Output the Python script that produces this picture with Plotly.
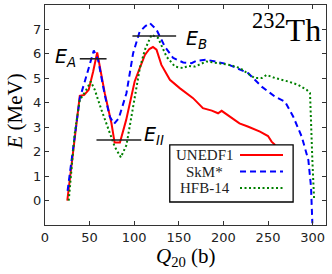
import plotly.graph_objects as go

# ---- data ----
q_unedf1 = [25, 39, 44, 49, 54, 58.5, 67, 74.5, 78, 84, 91, 100.5, 106, 112, 117, 121, 125, 130.5,
            140, 151, 166, 177, 187, 194, 198, 207, 218, 228, 241, 250, 254, 258]
e_unedf1 = [0, 4.28, 4.32, 4.53, 5.28, 6.06, 4.39, 3.16, 2.37, 2.37, 3.3, 4.87, 5.4, 5.96, 6.2, 6.28, 6.17, 5.55,
            4.94, 4.6, 4.19, 3.78, 3.68, 3.57, 3.67, 3.43, 3.16, 3.02, 2.82, 2.64, 2.41, 2.27]

q_skm = [25.3, 39, 44.6, 50.2, 54.7, 59.5, 67, 72.6, 77.5, 82.7, 91.3, 98.8, 106, 112, 117.5, 125, 134.3,
         143.7, 154.9, 164.3, 170, 181, 192.4, 203.6, 213, 227.8, 242.9, 257.8, 269, 278.3, 287.8, 295.2,
         298.2, 299.7]
e_skm = [0.4, 4.19, 4.87, 5.62, 6.14, 5.76, 4.32, 3.43, 3.14, 3.37, 4.39, 6.03, 6.9, 7.12, 7.26, 6.99, 6.30,
         5.83, 5.65, 5.62, 5.72, 5.76, 5.69, 5.59, 5.45, 5.21, 4.66, 4.25, 4.05, 3.43, 2.61, 1.66,
         0.57, -0.93]

q_hfb = [26.6, 33.3, 39, 45.3, 51.3, 55.8, 63.3, 70.7, 78.2, 85, 91.3, 98.8, 106.3, 112, 119.4, 126.8,
         136.2, 145.6, 154.9, 160.5, 168, 181, 196, 207, 218.5, 224, 235, 243, 248.5, 258, 272.7, 284,
         293.4, 297.1, 298.2, 299.7, 301.6]
e_hfb = [0, 2.75, 4.12, 4.46, 4.87, 4.53, 3.71, 2.96, 2.2, 1.77, 2.27, 3.84, 5.42, 6.17, 6.78, 6.65,
         5.89, 5.48, 5.42, 5.51, 5.48, 5.69, 5.62, 5.55, 5.42, 5.28, 5.01, 5.01, 5.14, 5.01, 4.87, 4.73,
         4.53, 4.39, 3.02, 1.66, 0.1]

barrier_labels = ["<i>E<sub>A</sub></i>", "<i>E<sub>B</sub></i>", "<i>E<sub>II</sub></i>"]
barrier_q_start = [39, 98, 57.7]
barrier_q_end = [69, 147, 108]
barrier_e = [5.8, 6.73, 2.48]

series_names = ["UNEDF1", "SkM*", "HFB-14"]
x_ticks = [0, 50, 100, 150, 200, 250, 300]
y_ticks = [0, 1, 2, 3, 4, 5, 6, 7]

colors = ["#ff0000", "#0000ff", "#008000"]
dashes = ["solid", "6px,4px", "2px,2.5px"]

fig = go.Figure()
for qs, es, c, d, n in zip([q_unedf1, q_skm, q_hfb], [e_unedf1, e_skm, e_hfb], colors, dashes, series_names):
    fig.add_trace(go.Scatter(x=qs, y=es, mode="lines", name=n, showlegend=False, hoverinfo="skip",
                             line=dict(color=c, width=2, dash=d)))

for x0, x1, e in zip(barrier_q_start, barrier_q_end, barrier_e):
    fig.add_trace(go.Scatter(x=[x0, x1], y=[e, e], mode="lines", showlegend=False, hoverinfo="skip",
                             line=dict(color="#222222", width=1.6)))

sans = "DejaVu Sans"
serif = "Liberation Serif"

# barrier labels
lab_pos = [(37, 5.85, "right"), (156, 6.58, "left"), (109, 2.68, "left")]
for (lx, ly, anc), t in zip(lab_pos, barrier_labels):
    fig.add_annotation(x=lx, y=ly, text=t, showarrow=False, xanchor=anc, yanchor="middle",
                       font=dict(family=sans, size=19, color="black"))

# nucleus label
fig.add_annotation(x=0.99, y=0.995, xref="paper", yref="paper", text="<sup>232</sup>Th",
                   showarrow=False, xanchor="right", yanchor="top",
                   font=dict(family=serif, size=32, color="black"))

# axis titles
fig.add_annotation(x=-0.108, y=0.514, xref="paper", yref="paper", text="<i>E</i> (MeV)",
                   showarrow=False, textangle=-90, xanchor="center", yanchor="middle",
                   font=dict(family=serif, size=21, color="black"))
fig.add_annotation(x=0.5, y=-0.145, xref="paper", yref="paper", text="<i>Q</i><sub>20</sub> (b)",
                   showarrow=False, xanchor="center", yanchor="middle",
                   font=dict(family=serif, size=21, color="black"))

# manual legend (text left of sample, as in the original)
L, R, B, T = 0.444, 0.883, 0.1045, 0.364
fig.add_shape(type="rect", xref="paper", yref="paper", x0=L, x1=R, y0=B, y1=T,
              fillcolor="white", line=dict(color="black", width=1.3), layer="above")
rows = [0.318, 0.243, 0.168]
for n, c, d, ry in zip(series_names, colors, dashes, rows):
    fig.add_shape(type="line", xref="paper", yref="paper", x0=0.694, x1=0.847, y0=ry, y1=ry,
                  line=dict(color=c, width=2, dash=d), layer="above")
    fig.add_annotation(x=0.569, y=ry, xref="paper", yref="paper", text=n, showarrow=False,
                       xanchor="center", yanchor="middle",
                       font=dict(family=serif, size=15, color="#222222"))

axis_common = dict(showgrid=False, zeroline=False, showline=True, linecolor="#333333", linewidth=1,
                   mirror="ticks", ticks="inside", ticklen=4, tickcolor="#333333", automargin=False,
                   tickfont=dict(family=sans, size=13, color="#222222"))

fig.update_layout(
    width=332, height=274,
    margin=dict(l=45, r=6, t=5, b=49),
    plot_bgcolor="white", paper_bgcolor="white",
    showlegend=False,
    hovermode=False,
    xaxis=dict(range=[0, 315], tickvals=x_ticks, **axis_common),
    yaxis=dict(range=[-1, 8], tickvals=y_ticks, **axis_common),
)

fig.write_html("out.html", config={"displayModeBar": False, "staticPlot": True},
               post_script="document.body.style.margin='0px';")
